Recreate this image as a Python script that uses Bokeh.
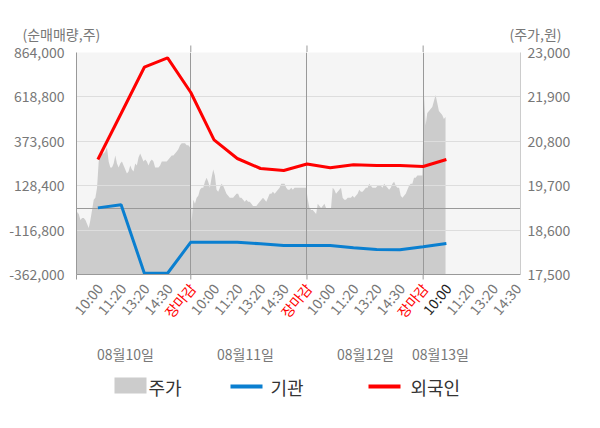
import numpy as np
from bokeh.plotting import figure
from bokeh.models import Range1d, LinearAxis, FixedTicker, NumeralTickFormatter
from bokeh.core.properties import value
from bokeh.embed import file_html
from bokeh.resources import INLINE

# ---------------- data ----------------
dates = ["08월10일", "08월11일", "08월12일", "08월13일"]
tick_labels = ["10:00", "11:20", "13:20", "14:30", "장마감"] * 3 + ["10:00", "11:20", "13:20", "14:30"]
current_label_index = 15          # 08월13일 10:00 (latest)
vol_ticks = [864000, 618800, 373600, 128400, -116800, -362000]
price_ticks = [23000, 21900, 20800, 19700, 18600, 17500]
legend_labels = ["주가", "기관", "외국인"]
axis_titles = ["(순매매량,주)", "(주가,원)"]

# net buying volume at 10:00, 11:20, 13:20, 14:30, close of each day
foreign = [273000, 527000, 782800, 834700, 643100,
           381900, 278600, 223400, 212300, 248000,
           227300, 243800, 240000, 240000, 234500,
           273000]
institution = [6000, 23000, -355000, -355000, -183600,
               -183600, -184000, -192500, -202000, -202000,
               -202000, -214600, -224000, -225600, -209000,
               -190800]

price_d1 = [18000, 19050, 19000, 18850, 18900, 18900, 18850, 18750, 18650, 18850,
            19100, 19350, 19400, 19650, 20300, 20450, 20500, 20500, 20550, 20650,
            20300, 20150, 20150, 20250, 20450, 20250, 20150, 20250, 20300, 20200,
            20100, 20000, 20050, 20200, 20100, 20050, 20250, 20200, 20400, 20500,
            20400, 20300, 20350, 20300, 20200, 20300, 20350, 20300, 20150, 20150,
            20150, 20200, 20300, 20300, 20300, 20300, 20350, 20400, 20450, 20450,
            20500, 20550, 20600, 20700, 20750, 20750, 20750, 20700, 20700, 20650]
price_d2 = [18800, 19350, 19250, 19400, 19450, 19600, 19650, 19650, 19800, 19900,
            19800, 19650, 19900, 20100, 19950, 19600, 19550, 19650, 19750, 19700,
            19600, 19500, 19450, 19400, 19400, 19400, 19450, 19500, 19500, 19400,
            19400, 19350, 19300, 19350, 19300, 19300, 19250, 19200, 19200, 19200,
            19250, 19300, 19350, 19400, 19350, 19300, 19400, 19500, 19500, 19550,
            19500, 19550, 19600, 19650, 19750, 19750, 19750, 19650, 19600, 19600,
            19650, 19600, 19650, 19650, 19650, 19650, 19650, 19650, 19650, 19650]
price_d3 = [19350, 19150, 19100, 19100, 19050, 19000, 19250, 19200, 19150, 19200,
            19250, 19150, 19150, 19150, 19150, 19650, 19600, 19500, 19550, 19600,
            19650, 19400, 19350, 19350, 19400, 19400, 19400, 19450, 19400, 19450,
            19500, 19600, 19550, 19550, 19600, 19650, 19650, 19750, 19700, 19650,
            19650, 19650, 19700, 19700, 19700, 19650, 19750, 19700, 19650, 19600,
            19650, 19750, 19800, 19700, 19650, 19650, 19450, 19400, 19450, 19500,
            19600, 19700, 19750, 19750, 19900, 19900, 19950, 19950, 19950, 19950]
price_d4 = [21950, 21200, 21500, 21550, 21600, 21650, 21800, 21950, 21750, 21550,
            21500, 21450, 21350, 21400]

FONT = value("Noto Sans CJK KR")
FONT_NAME = "Noto Sans CJK KR"
GRAY_TXT = "#777777"
LINE_GRAY = "#999999"
BLUE, RED, AREA = "#0a7fd0", "#ff0000", "#cccccc"
SLOTS = 5  # axis slots per day: open, 10:00, 11:20, 13:20, 14:30, close
day_bounds = [5, 10, 15]

# ---------------- layout constants (page pixels) ----------------
W, H = 600, 428
FL, FR = 76, 80            # frame left / right borders
FT, FH = 52, 222           # frame top, frame height
FB = FT + FH               # frame bottom
MAIN_BOT = 14
MAIN_H = FB + MAIN_BOT
TOP_H = FT
BOT_Y0 = 272               # page y where the bottom strip starts
BOT_H = H - BOT_Y0
XS, XE = 0.08, 19.19
K = (W - FL - FR) / (XE - XS)     # px per slot
FULL_X = (XS - FL / K, XE + FR / K)

# positions on the x axis
line_x = [d * SLOTS + k for d in range(4) for k in range(1, SLOTS + 1)][:len(foreign)]
price_x, price_y = [], []
for d, (arr, span) in enumerate([(price_d1, 5), (price_d2, 5), (price_d3, 5), (price_d4, 1)]):
    n = len(arr)
    price_x += list(d * SLOTS + (np.arange(n) + 0.5) * span / n)
    price_y += arr


def bare(fig):
    fig.xaxis.visible = False
    fig.yaxis.visible = False
    fig.xgrid.visible = False
    fig.ygrid.visible = False
    fig.outline_line_color = None
    fig.background_fill_alpha = 0
    fig.border_fill_alpha = 0
    fig.min_border = 0


# ---------------- top strip: axis titles, separator extensions ----------------
top = figure(width=W, height=TOP_H, x_range=Range1d(0, W), y_range=Range1d(TOP_H, 0),
             output_backend="svg", toolbar_location=None)
top.extra_x_ranges = {"u": Range1d(*FULL_X)}
bare(top)
top.text(x=[22, 509], y=[33, 33], text=axis_titles,
         text_font=FONT, text_font_size="14px", text_color=GRAY_TXT,
         text_align="left", text_baseline="middle")
top.segment(x0=day_bounds, x1=day_bounds, y0=[FT - 7] * 3, y1=[FT] * 3, x_range_name="u",
            line_color=LINE_GRAY, line_width=1)

# ---------------- main chart (overlaps the top strip) ----------------
p = figure(width=W, height=MAIN_H, x_range=Range1d(XS, XE),
           y_range=Range1d(vol_ticks[-1], vol_ticks[0]),
           output_backend="svg", toolbar_location=None,
           min_border_left=FL, min_border_right=FR, min_border_top=FT,
           min_border_bottom=MAIN_BOT, margin=(-TOP_H, 0, 0, 0))
p.extra_y_ranges = {"price": Range1d(price_ticks[-1], price_ticks[0])}
p.background_fill_color = "#f5f5f5"
p.border_fill_alpha = 0
p.outline_line_color = None
p.xgrid.visible = False
p.ygrid.visible = False

p.varea(x=price_x, y1=price_ticks[-1], y2=price_y, y_range_name="price", fill_color=AREA)
p.hspan(y=vol_ticks[1:-1], line_color="#dddddd", line_width=1)
p.hspan(y=[0], line_color=LINE_GRAY, line_width=1)
p.vspan(x=day_bounds, line_color=LINE_GRAY, line_width=1)
p.line(line_x, institution, line_color=BLUE, line_width=3)
p.line(line_x, foreign, line_color=RED, line_width=3)

ya = p.yaxis[0]
ya.ticker = FixedTicker(ticks=vol_ticks)
ya.formatter = NumeralTickFormatter(format="0,0")
ya.major_tick_out = 0
ya.major_tick_in = 0
ya.minor_tick_out = 0
ya.minor_tick_in = 0
ya.axis_line_color = LINE_GRAY
ya.major_label_text_color = GRAY_TXT
ya.major_label_text_font = FONT_NAME
ya.major_label_text_font_size = "14px"
ya.major_label_standoff = 12

ra = LinearAxis(y_range_name="price", ticker=FixedTicker(ticks=price_ticks),
                formatter=NumeralTickFormatter(format="0,0"))
ra.major_tick_out = 0
ra.major_tick_in = 0
ra.minor_tick_out = 0
ra.minor_tick_in = 0
ra.axis_line_color = "#cccccc"
ra.major_label_text_color = GRAY_TXT
ra.major_label_text_font = FONT_NAME
ra.major_label_text_font_size = "14px"
ra.major_label_standoff = 7
p.add_layout(ra, "right")

# bottom axis: only its line (ticks and labels are in the bottom strip)
xa = p.xaxis[0]
xa.ticker = FixedTicker(ticks=[])
xa.major_tick_out = 0
xa.major_tick_in = 0
xa.minor_tick_out = 0
xa.minor_tick_in = 0
xa.axis_line_color = LINE_GRAY

# ---------------- bottom strip (overlaps main's lower border) ----------------
bot = figure(width=W, height=BOT_H, x_range=Range1d(*FULL_X),
             y_range=Range1d(BOT_H, 0), output_backend="svg", toolbar_location=None,
             margin=(BOT_Y0 - MAIN_H, 0, 0, 0))
bot.extra_x_ranges = {"px": Range1d(0, W)}
bare(bot)


def by(page_y):
    return page_y - BOT_Y0


# day-boundary tick marks under the axis line
tick_u = [XS] + day_bounds
bot.segment(x0=tick_u, x1=tick_u, y0=[by(FB)] * 4, y1=[by(FB + 5)] * 4,
            line_color=LINE_GRAY, line_width=1)

lab_x = list(range(1, len(tick_labels) + 1))
lab_c = [RED if t == "장마감" else ("#222222" if i == current_label_index else GRAY_TXT)
         for i, t in enumerate(tick_labels)]
bot.text(x=lab_x, y=[by(285)] * len(lab_x), text=tick_labels, text_color=lab_c,
         text_font=FONT, text_font_size="14px", text_align="right", text_baseline="middle",
         angle=50, angle_units="deg", x_offset=1.5)

bot.text(x=[125, 245, 365, 440], y=[by(353)] * 4, text=dates, x_range_name="px",
         text_color=GRAY_TXT, text_font=FONT, text_font_size="14px",
         text_align="center", text_baseline="middle")

# legend (drawn by hand)
bot.quad(left=[114], right=[146], top=[by(377)], bottom=[by(393)], x_range_name="px",
         fill_color=AREA, line_color=None)
bot.segment(x0=[230, 368], x1=[262, 400], y0=[by(386)] * 2, y1=[by(386)] * 2,
            x_range_name="px", line_color=[BLUE, RED], line_width=4)
bot.text(x=[148, 270, 410], y=[by(386)] * 3, text=legend_labels, x_range_name="px",
         text_color="#333333", text_font=FONT, text_font_size="18px",
         text_align="left", text_baseline="middle")

open("out.html", "w").write(file_html([top, p, bot], INLINE))
